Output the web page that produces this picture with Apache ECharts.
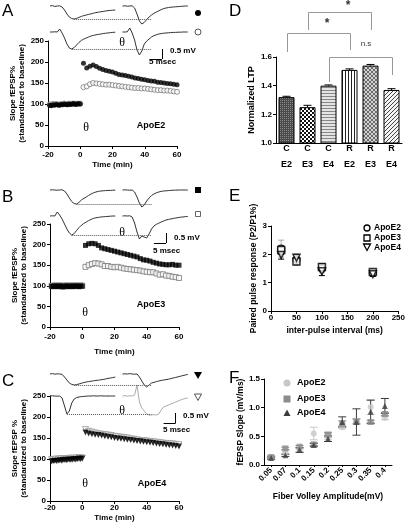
<!DOCTYPE html>
<html><head><meta charset="utf-8">
<script src="https://cdn.jsdelivr.net/npm/echarts@6/dist/echarts.min.js"></script>
<style>html,body{margin:0;padding:0;background:#fff}#c{width:408px;height:527px}</style>
</head><body><div id="c"></div>
<script>
// ---------------- DATA ----------------
const timeBase = [-19,-18,-17,-16,-15,-14,-13,-12,-11,-10,-9,-8,-7,-6,-5,-4,-3,-2,-1,0];
const timePost = [2,4,6,8,10,12,14,16,18,20,22,24,26,28,30,32,34,36,38,40,42,44,46,48,50,52,54,56,58,60];
const timeTicks = [-20,0,20,40,60];

const aFilledBase = [97,96,98,97,99,98,97,99,98,100,99,98,100,99,100,101,99,100,101,100];
const aOpenBase   = [99,98,100,99,100,99,98,100,99,101,100,99,101,100,101,101,100,101,100,101];
const aFilledPost = [197,186,190,193,189,185,182,180,178,176,173,170,169,168,166,164,162,161,159,158,156,155,154,152,151,150,149,148,147,146];
const aOpenPost   = [140,142,147,150,149,148,147,146,146,145,144,143,142,141,140,139,138,138,137,137,136,135,134,133,133,132,132,131,130,129];

const bFilledBase = [99,98,100,99,98,100,99,97,99,100,98,99,100,98,99,100,99,98,100,99];
const bOpenBase   = [100,99,101,100,99,101,100,99,100,101,99,100,101,99,100,101,100,99,101,100];
const bFilledPost = [198,202,203,202,198,192,190,188,186,184,182,180,178,176,174,172,170,166,163,162,160,157,155,153,152,151,151,152,150,150];
const bOpenPost   = [146,150,153,155,154,152,148,148,146,145,146,144,142,141,140,139,138,137,135,134,133,133,130,127,128,125,124,122,121,119];

const cFilledBase = [94,95,96,95,96,97,96,97,98,97,98,99,98,99,100,99,100,101,100,101];
const cOpenBase   = [99,98,99,100,99,100,101,100,101,100,101,102,101,102,101,102,103,102,103,102];
const cFilledPost = [163,161,159,158,157,156,154,153,152,150,149,148,147,146,145,144,143,142,141,140,139,138,137,136,135,134,133,132,131,130];
const cOpenPost   = [170,166,164,162,160,159,158,157,156,154,153,152,151,150,148,147,146,143,144,143,142,141,140,139,138,137,137,136,135,134];

// sample traces (mV, 1 ms steps); left = baseline sweep, right = after theta burst
const traceDt = 1, traceOffset = 30;
const traceA1L = [0,0.02,-0.02,0,0.01,-0.05,-0.2,-0.4,-0.55,-0.63,-0.65,-0.62,-0.57,-0.52,-0.48,-0.45,-0.42,-0.39,-0.36,-0.33,-0.31,-0.29,-0.27,-0.25,-0.23,-0.22,-0.21,-0.2];
const traceA1R = [0,0.01,-0.01,0,0.01,-0.1,-0.4,-0.75,-0.9,-0.82,-0.68,-0.55,-0.45,-0.37,-0.3,-0.24,-0.18,-0.13,-0.1,-0.08,-0.06,-0.05,-0.04,-0.03,-0.02,-0.01,0,0];
const traceA2L = [0,0,0.01,0,0.15,-0.05,-0.3,-0.6,-0.8,-0.85,-0.78,-0.65,-0.52,-0.42,-0.35,-0.3,-0.25,-0.2,-0.17,-0.14,-0.12,-0.1,-0.08,-0.06,-0.05,-0.03,-0.02,-0.01];
const traceA2R = [0,0,0.01,0.2,-0.05,-0.4,-0.9,-1.15,-0.95,-0.6,-0.45,-0.35,-0.25,-0.18,-0.14,-0.1,-0.08,-0.06,-0.05,-0.04,-0.03,-0.02,-0.02,-0.01,-0.01,0,0,0];
const traceB1L = [0,0.01,0,-0.01,0,0.01,-0.05,-0.2,-0.4,-0.58,-0.68,-0.7,-0.62,-0.5,-0.42,-0.35,-0.27,-0.2,-0.14,-0.1,-0.07,-0.05,-0.04,-0.03,-0.02,-0.02,-0.01,-0.01];
const traceB1R = [0,0.01,0,-0.01,0,-0.1,-0.35,-0.65,-0.85,-0.75,-0.55,-0.4,-0.28,-0.2,-0.14,-0.1,-0.07,-0.05,-0.04,-0.03,-0.02,-0.01,-0.01,0,0,0,0,0];
const traceB2L = [0,0.01,0,0.2,0.05,-0.15,-0.4,-0.65,-0.85,-0.95,-0.88,-0.72,-0.58,-0.46,-0.37,-0.3,-0.23,-0.17,-0.12,-0.09,-0.07,-0.05,-0.04,-0.03,-0.02,-0.01,0,0];
const traceB2R = [0,0.01,0,0.01,-0.05,-0.35,-0.8,-1.15,-1.0,-1.05,-1.1,-0.9,-0.65,-0.5,-0.42,-0.36,-0.3,-0.25,-0.2,-0.17,-0.15,-0.12,-0.1,-0.08,-0.06,-0.05,-0.03,-0.02];
const traceC1L = [0,0.02,-0.01,0.01,0,-0.02,-0.15,-0.3,-0.45,-0.52,-0.55,-0.53,-0.5,-0.46,-0.43,-0.4,-0.38,-0.36,-0.34,-0.32,-0.31,-0.29,-0.27,-0.25,-0.22,-0.2,-0.18,-0.15];
const traceC1R = [0,0.01,0,0.02,0,-0.01,0,-0.15,-0.35,-0.55,-0.65,-0.55,-0.45,-0.42,-0.38,-0.35,-0.32,-0.3,-0.28,-0.26,-0.23,-0.2,-0.17,-0.14,-0.11,-0.08,-0.05,-0.02];
const traceC2L = [0,0.01,0,-0.01,0,-0.1,-0.5,-0.9,-0.75,-0.35,-0.15,-0.08,-0.05,-0.03,-0.02,-0.01,0,0,0.01,0,0,0.01,0,0,0,0,0,0];
const traceC2R = [0,0.02,-0.01,0.01,0,0.05,0.55,-0.3,-0.6,-0.75,-0.9,-0.95,-0.95,-0.93,-0.95,-0.9,-0.7,-0.55,-0.5,-0.45,-0.4,-0.35,-0.3,-0.25,-0.2,-0.16,-0.12,-0.1];

const ltpCategories = ['C\nE2','C\nE3','C\nE4','R\nE2','R\nE3','R\nE4'];
const ltpValues = [1.32,1.25,1.40,1.51,1.54,1.37];
const ltpErrors = [0.006,0.013,0.005,0.007,0.008,0.009];

const ppInterval = [20,50,100,200];
const ppE2 = [2.2,1.82,1.5,1.35];  const ppE2Err = [0.3,0.15,0.15,0.08];
const ppE3 = [2.15,1.75,1.55,1.38]; const ppE3Err = [0.15,0.12,0.12,0.08];
const ppE4 = [1.98,1.88,1.4,1.3];  const ppE4Err = [0.15,0.12,0.15,0.08];

const fvAmplitude = ['0.05','0.07','0.1','0.15','0.2','0.25','0.3','0.35','0.4'];
const fE2 = [0.13,0.22,0.27,0.55,0.50,0.66,0.76,1.01,0.82]; const fE2Err = [0.02,0.03,0.03,0.11,0.05,0.03,0.05,0.13,0.03];
const fE3 = [0.14,0.29,0.32,0.36,0.53,0.72,0.76,0.75,0.89]; const fE3Err = [0.02,0.02,0.02,0.02,0.04,0.05,0.04,0.03,0.03];
const fE4 = [0.12,0.17,0.26,0.35,0.46,0.75,0.75,0.93,1.03]; const fE4Err = [0.02,0.02,0.04,0.03,0.05,0.09,0.23,0.2,0.13];

// ---------------- BUILD ----------------
const FONT = 'Liberation Sans, Arial, sans-serif';
const grids = [], xAxes = [], yAxes = [], series = [];
function axisBase(o){
  const base = {
    axisLine:{show:true,onZero:false,lineStyle:{color:'#000',width:1}},
    axisTick:{show:true,length:3,lineStyle:{color:'#000',width:1}},
    axisLabel:{color:'#000',fontSize:8,fontWeight:'bold',fontFamily:FONT,margin:4},
    splitLine:{show:false},
    nameTextStyle:{color:'#000',fontSize:8,fontWeight:'bold',fontFamily:FONT,lineHeight:9}
  };
  for (const k in o){
    if (base[k] && typeof base[k]==='object' && o[k] && typeof o[k]==='object' && !Array.isArray(o[k])) base[k]=Object.assign({},base[k],o[k]);
    else base[k]=o[k];
  }
  return base;
}
function addGrid(g){ grids.push(Object.assign({containLabel:false},g)); return grids.length-1; }
function pairs(x,y){ return x.map((t,i)=>[t,y[i]]); }
function sc(gi,data,symbol,size,style,rot){
  return {type:'scatter',xAxisIndex:gi,yAxisIndex:gi,data,symbol,symbolSize:size,symbolRotate:rot||0,itemStyle:style,silent:true,animation:false};
}
function errRender(capW,color,onlyUp){
  return function(params,api){
    const x=api.value(0), lo=api.value(1), hi=api.value(2);
    const p1=api.coord([x,lo]), p2=api.coord([x,hi]);
    const st={stroke:color,lineWidth:1};
    const ch=[{type:'line',shape:{x1:p1[0],y1:p1[1],x2:p2[0],y2:p2[1]},style:st},
              {type:'line',shape:{x1:p2[0]-capW,y1:p2[1],x2:p2[0]+capW,y2:p2[1]},style:st}];
    if(!onlyUp) ch.push({type:'line',shape:{x1:p1[0]-capW,y1:p1[1],x2:p1[0]+capW,y2:p1[1]},style:st});
    return {type:'group',children:ch};
  };
}

function mainPanel(g, yName, lm, ng, syms){
  const gi = addGrid(g);
  xAxes.push(axisBase({gridIndex:gi,type:'value',min:timeTicks[0],max:timeTicks[timeTicks.length-1],interval:20,
    name:'Time (min)',nameLocation:'middle',nameGap:ng,axisLabel:{margin:lm}}));
  yAxes.push(axisBase({gridIndex:gi,type:'value',min:0,max:250,interval:50,name:yName,nameLocation:'middle',nameGap:19}));
  const [fb,ob,fp,op] = syms.data;
  series.push(sc(gi,pairs(timeBase,ob),syms.symbol,syms.size,{color:'#fff',borderColor:syms.open,borderWidth:1},syms.rot));
  series.push(sc(gi,pairs(timeBase,fb),syms.symbol,syms.size,{color:'#000'},syms.rot));
  series.push(sc(gi,pairs(timePost,op),syms.symbol,syms.size,{color:'#fff',borderColor:syms.open,borderWidth:1},syms.rot));
  series.push(sc(gi,pairs(timePost,fp),syms.symbol,syms.size,{color:'#000'},syms.rot));
  return gi;
}
function traceRow(baseline, L, R, rColor, scaleX){
  const top = Math.max(0, baseline-12);
  const yMax = (baseline-top)/20;
  const gi = addGrid({left:50,top,width:145,height:baseline+32-top});
  xAxes.push({gridIndex:gi,type:'value',min:0,max:60,show:false});
  yAxes.push({gridIndex:gi,type:'value',min:-1.6,max:yMax,show:false});
  const troughV = Math.min(...L), troughT = L.indexOf(troughV)*traceDt;
  series.push({type:'line',xAxisIndex:gi,yAxisIndex:gi,data:L.map((v,i)=>[i*traceDt,v]),showSymbol:false,symbol:'none',
    lineStyle:{color:'#333',width:1},silent:true,animation:false,clip:false,
    markLine:{silent:true,symbol:['none','none'],label:{show:false},animation:false,
      lineStyle:{color:'#555',type:'dotted',width:1},
      data:[[{coord:[troughT,troughV]},{coord:[traceOffset+12,troughV]}]]}});
  const rs = {type:'line',xAxisIndex:gi,yAxisIndex:gi,data:R.map((v,i)=>[traceOffset+i*traceDt,v]),showSymbol:false,symbol:'none',
    lineStyle:{color:rColor||'#333',width:1},silent:true,animation:false,clip:false};
  if (scaleX!==undefined){
    rs.markLine={silent:true,symbol:['none','none'],label:{show:false},animation:false,lineStyle:{color:'#000',type:'solid',width:1},
      data:[[{coord:[scaleX,-1.35]},{coord:[scaleX,-0.85]}],[{coord:[scaleX-5,-1.35]},{coord:[scaleX,-1.35]}]]};
  }
  series.push(rs);
  return gi;
}

// Panel A
mainPanel({left:48,top:41,width:129,height:105},'Slope fEPSP%\n(standardized to baseline)',5,14,
  {symbol:'circle',size:5,open:'#777',data:[aFilledBase,aOpenBase,aFilledPost,aOpenPost]});
traceRow(6,traceA1L,traceA1R);
traceRow(32,traceA2L,traceA2R,null,46.3);
// Panel B
mainPanel({left:50,top:224,width:129,height:103},'Slope fEPSP%\n(standardized to baseline)',6,20,
  {symbol:'rect',size:5,open:'#777',data:[bFilledBase,bOpenBase,bFilledPost,bOpenPost]});
traceRow(190,traceB1L,traceB1R);
traceRow(216,traceB2L,traceB2R,null,48);
// Panel C
mainPanel({left:50,top:396,width:129,height:105},'Slope fEPSP %\n(standardized to baseline)',3,9,
  {symbol:'triangle',size:6,rot:180,open:'#999',data:[cFilledBase,cOpenBase,cFilledPost,cOpenPost]});
traceRow(374,traceC1L,traceC1R);
traceRow(396,traceC2L,traceC2R,'#aaa',52);

// Panel D
function pat(w,h,draw){const c=document.createElement('canvas');c.width=w;c.height=h;const g=c.getContext('2d');draw(g);return {image:c,repeat:'repeat'};}
const patterns = [
  pat(2,2,g=>{g.fillStyle='#4a4a4a';g.fillRect(0,0,2,2);g.fillStyle='#8a8a8a';g.fillRect(0,0,1,1);}),
  pat(4,4,g=>{g.fillStyle='#fff';g.fillRect(0,0,4,4);g.fillStyle='#111';g.fillRect(0,0,2,2);g.fillRect(2,2,2,2);}),
  pat(1,3,g=>{g.fillStyle='#e4e4e4';g.fillRect(0,0,1,3);g.fillStyle='#888';g.fillRect(0,0,1,1);}),
  pat(3,1,g=>{g.fillStyle='#fff';g.fillRect(0,0,3,1);g.fillStyle='#222';g.fillRect(0,0,1,1);}),
  pat(4,4,g=>{g.fillStyle='#d4d4d4';g.fillRect(0,0,4,4);g.fillStyle='#6a6a6a';for(let i=0;i<4;i++){g.fillRect(i,i,1,1);g.fillRect(i,3-i,1,1);}}),
  pat(4,4,g=>{g.fillStyle='#f4f4f4';g.fillRect(0,0,4,4);g.fillStyle='#444';for(let i=0;i<4;i++){g.fillRect(i,3-i,1,1);}})
];
const gD = addGrid({left:276,top:57,width:126,height:86});
const dLab = {fontSize:9,fontWeight:'bold',fontFamily:FONT,color:'#000'};
xAxes.push(axisBase({gridIndex:gD,type:'category',data:ltpCategories,axisTick:{show:false},
  axisLabel:{margin:0,interval:0,formatter:v=>{const p=v.split('\n');return '{a|'+p[0]+'}\n{b|'+p[1]+'}';},
    rich:{a:Object.assign({lineHeight:12},dLab),b:Object.assign({lineHeight:20},dLab)}}}));
yAxes.push(axisBase({gridIndex:gD,type:'value',min:1.0,max:1.6,interval:0.2,name:'Normalized LTP',nameLocation:'middle',nameGap:20,
  axisLabel:{formatter:v=>v.toFixed(1)},nameTextStyle:{fontSize:9}}));
series.push({type:'bar',xAxisIndex:gD,yAxisIndex:gD,barWidth:16,silent:true,animation:false,
  data:ltpValues.map((v,i)=>({value:v,itemStyle:{color:patterns[i],borderColor:'#000',borderWidth:1}}))});
series.push({type:'custom',xAxisIndex:gD,yAxisIndex:gD,silent:true,animation:false,z:5,
  renderItem:errRender(4,'#000',true),encode:{x:0,y:[1,2]},
  data:ltpValues.map((v,i)=>[i,v,v+ltpErrors[i]])});

// Panel E
const gE = addGrid({left:271,top:226,width:131,height:85});
xAxes.push(axisBase({gridIndex:gE,type:'value',min:0,max:250,interval:50,name:'inter-pulse interval (ms)',nameLocation:'middle',nameGap:15,
  axisLabel:{margin:3},nameTextStyle:{fontSize:8.5}}));
yAxes.push(axisBase({gridIndex:gE,type:'value',min:0,max:3,interval:1,name:'Paired pulse response (P2/P1%)',nameLocation:'middle',nameGap:12,
  nameTextStyle:{fontSize:8.5}}));
[[ppE2,ppE2Err,'#aaa'],[ppE3,ppE3Err,'#000'],[ppE4,ppE4Err,'#000']].forEach(([v,e,c])=>{
  series.push({type:'custom',xAxisIndex:gE,yAxisIndex:gE,silent:true,animation:false,renderItem:errRender(3,c),encode:{x:0,y:[1,2]},
    data:ppInterval.map((x,i)=>[x,v[i]-e[i],v[i]+e[i]])});
});
series.push(sc(gE,pairs(ppInterval,ppE2),'circle',7,{color:'#fff',borderColor:'#000',borderWidth:1.5}));
series.push(sc(gE,pairs(ppInterval,ppE3),'rect',7,{color:'#fff',borderColor:'#000',borderWidth:1.5}));
series.push(sc(gE,pairs(ppInterval,ppE4),'triangle',7,{color:'#fff',borderColor:'#000',borderWidth:1.5},180));

// Panel F
const gF = addGrid({left:264,top:379,width:128,height:86});
xAxes.push(axisBase({gridIndex:gF,type:'category',data:fvAmplitude,name:'Fiber Volley Amplitude(mV)',nameLocation:'middle',nameGap:27,
  axisLabel:{rotate:45,interval:0,margin:4},axisTick:{alignWithLabel:true,length:2},nameTextStyle:{fontSize:8.5}}));
yAxes.push(axisBase({gridIndex:gF,type:'value',min:0,max:1.5,interval:0.5,name:'fEPSP Slope (mV/ms)',nameLocation:'middle',nameGap:16,
  axisLabel:{formatter:v=>v.toFixed(1)},nameTextStyle:{fontSize:8.5}}));
const fSets = [[fE2,fE2Err,'#c8c8c8','circle',6,0],[fE3,fE3Err,'#8c8c8c','rect',6,0],[fE4,fE4Err,'#3c3c3c','triangle',6,0]];
fSets.forEach(([v,e,c,s,sz,r])=>{
  series.push({type:'custom',xAxisIndex:gF,yAxisIndex:gF,silent:true,animation:false,renderItem:errRender(4,c),encode:{x:0,y:[1,2]},
    data:v.map((y,i)=>[i,y-e[i],y+e[i]])});
  series.push(sc(gF,v.map((y,i)=>[i,y]),s,sz,{color:c},r));
});

const chart = echarts.init(document.getElementById('c'),null,{renderer:'canvas',width:408,height:527});
chart.setOption({animation:false,backgroundColor:'#fff',grid:grids,xAxis:xAxes,yAxis:yAxes,series});

// ---------------- ANNOTATIONS ----------------
function T(x,y,text,size,weight,align,color,family){
  return {type:'text',x,y,silent:true,style:{text,fill:color||'#000',fontSize:size,fontWeight:weight||'normal',fontFamily:family||FONT,
    align:align||'left',textAlign:align||'left',verticalAlign:'middle',textVerticalAlign:'middle'}};
}
function PL(points,color){return {type:'polyline',silent:true,shape:{points},style:{stroke:color||'#999',fill:null,lineWidth:1}};}
const G = [];
[['A',2,11],['B',2,197],['C',2,381],['D',229,11],['E',229,196],['F',229,378]].forEach(([t,x,y])=>G.push(T(x,y,t,17,'normal','left')));
const SERIF='Liberation Serif, DejaVu Serif, serif';
[[122,43],[122,233],[122,411],[86,128],[85,313],[85,484]].forEach(([x,y])=>G.push(T(x,y,'θ',12,'normal','center','#000',SERIF)));
[['ApoE2',151,126],['ApoE3',151,305],['ApoE4',152,484]].forEach(([t,x,y])=>G.push(T(x,y,t,9,'bold','center')));
[['0.5 mV',170,51],['5 msec',149,62],['0.5 mV',174,238],['5 msec',153,251],['0.5 mV',183,416],['5 msec',163,430]].forEach(([t,x,y])=>G.push(T(x,y,t,8,'bold','left')));
// trace markers
G.push({type:'circle',silent:true,shape:{cx:198,cy:13,r:3},style:{fill:'#000'}});
G.push({type:'circle',silent:true,shape:{cx:198,cy:32,r:3},style:{fill:'#fff',stroke:'#555',lineWidth:1}});
G.push({type:'rect',silent:true,shape:{x:195,y:187,width:6,height:6},style:{fill:'#000'}});
G.push({type:'rect',silent:true,shape:{x:195.5,y:211.5,width:5,height:5},style:{fill:'#fff',stroke:'#666',lineWidth:1}});
G.push({type:'polygon',silent:true,shape:{points:[[194,372],[202,372],[198,379]]},style:{fill:'#000'}});
G.push({type:'polygon',silent:true,shape:{points:[[194.5,394],[201.5,394],[198,400.5]]},style:{fill:'#fff',stroke:'#555',lineWidth:1}});
// D brackets
const bx = i => chart.convertToPixel({xAxisIndex:gD}, ltpCategories[i]);
[[0,3,33,52,50,'*',8,24,12],[1,4,12,30,30,'*',8,6,12],[2,5,57,82,75,'n.s',5,44,8]].forEach(([a,b,top,ya,yb,lab,dx,ly,fs])=>{
  const xa=Math.round(bx(a))+0.5, xb=Math.round(bx(b))+0.5, t=top+0.5;
  G.push(PL([[xa,ya],[xa,t],[xb,t],[xb,yb]],'#999'));
  G.push(T((xa+xb)/2+dx,ly,lab,fs,lab==='*'?'bold':'normal','center','#333'));
});
// E legend
G.push({type:'circle',silent:true,shape:{cx:367,cy:228,r:3},style:{fill:'#fff',stroke:'#000',lineWidth:1.3}});
G.push({type:'rect',silent:true,shape:{x:364,y:235,width:6,height:6},style:{fill:'#fff',stroke:'#000',lineWidth:1.3}});
G.push({type:'polygon',silent:true,shape:{points:[[363.5,244],[370.5,244],[367,250.5]]},style:{fill:'#fff',stroke:'#000',lineWidth:1.3}});
[['ApoE2',228],['ApoE3',238],['ApoE4',247.5]].forEach(([t,y])=>G.push(T(374,y,t,8.5,'bold','left')));
// F legend
G.push({type:'circle',silent:true,shape:{cx:287,cy:383,r:3.5},style:{fill:'#c8c8c8'}});
G.push({type:'rect',silent:true,shape:{x:283.5,y:395.5,width:7,height:7},style:{fill:'#8c8c8c'}});
G.push({type:'polygon',silent:true,shape:{points:[[283.5,416],[290.5,416],[287,409.5]]},style:{fill:'#3c3c3c'}});
[['ApoE2',383],['ApoE3',399],['ApoE4',413]].forEach(([t,y])=>G.push(T(297,y,t,9,'bold','left')));
chart.setOption({graphic:G});
</script></body></html>
